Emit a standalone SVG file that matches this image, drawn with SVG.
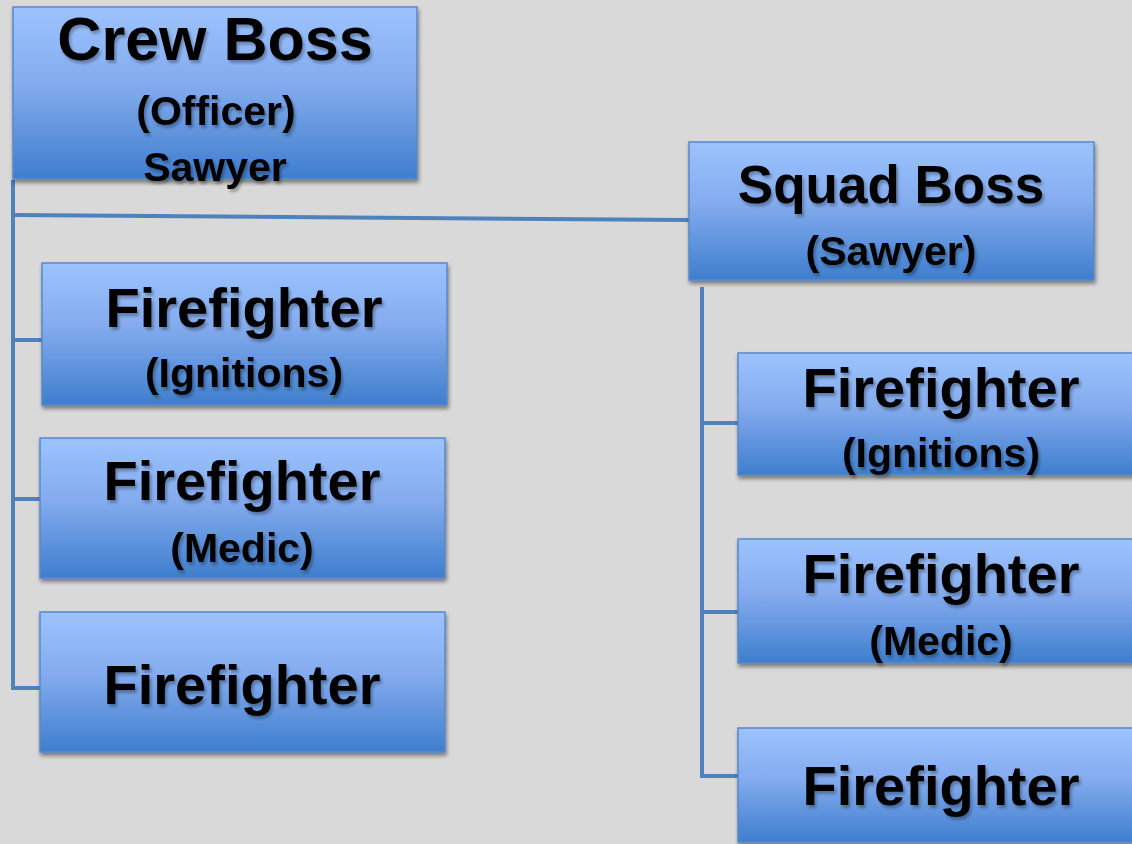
<svg xmlns="http://www.w3.org/2000/svg" width="1132" height="844" viewBox="0 0 1132 844">
<defs>
<linearGradient id="g" x1="0" y1="0" x2="0" y2="1">
<stop offset="0" stop-color="#9DC3FE"/>
<stop offset="0.45" stop-color="#83ABEE"/>
<stop offset="1" stop-color="#3E7ECD"/>
</linearGradient>
<filter id="bs" x="-5%" y="-10%" width="110%" height="125%">
<feGaussianBlur in="SourceAlpha" stdDeviation="2"/>
<feOffset dx="1" dy="3"/>
<feComponentTransfer><feFuncA type="linear" slope="0.45"/></feComponentTransfer>
<feMerge><feMergeNode/><feMergeNode in="SourceGraphic"/></feMerge>
</filter>
<filter id="ts" x="-5%" y="-20%" width="110%" height="150%">
<feGaussianBlur in="SourceAlpha" stdDeviation="1.5"/>
<feOffset dx="1.5" dy="2.5"/>
<feComponentTransfer><feFuncA type="linear" slope="0.3"/></feComponentTransfer>
<feMerge><feMergeNode/><feMergeNode in="SourceGraphic"/></feMerge>
</filter>
</defs>
<style>
.box{fill:url(#g);stroke:#5A88C8;stroke-width:1.5;filter:url(#bs)}
text{font-family:"Liberation Sans",Arial,sans-serif;font-weight:bold;fill:#000;text-anchor:middle;filter:url(#ts)}
.t{font-size:56px}
.big{font-size:61px}
.sb{font-size:53px}
.s{font-size:41px}
.c{fill:none;stroke:#4F81BD;stroke-width:4;stroke-linejoin:miter}
</style>
<rect width="1132" height="844" fill="#D9D9D9"/>
<g id="connectors">
<polyline class="c" points="13,180 13,688 41,688"/>
<line class="c" x1="13" y1="215" x2="689" y2="220"/>
<line class="c" x1="13" y1="340" x2="42" y2="340"/>
<line class="c" x1="13" y1="499" x2="40" y2="499"/>
<polyline class="c" points="702,287 702,776 738,776"/>
<line class="c" x1="702" y1="423" x2="738" y2="423"/>
<line class="c" x1="702" y1="612" x2="738" y2="612"/>
</g>
<g id="crew-boss">
<rect class="box" x="13" y="7" width="404" height="172"/>
<text class="big" x="215" y="60">Crew Boss</text>
<text class="s" x="216" y="125">(Officer)</text>
<text class="s" x="215" y="181">Sawyer</text>
</g>
<g id="ff-left-1">
<rect class="box" x="42" y="263" width="405" height="142"/>
<text class="t" x="244" y="327">Firefighter</text>
<text class="s" x="244" y="387">(Ignitions)</text>
</g>
<g id="ff-left-2">
<rect class="box" x="40" y="438" width="405" height="140"/>
<text class="t" x="242" y="500">Firefighter</text>
<text class="s" x="242" y="562">(Medic)</text>
</g>
<g id="ff-left-3">
<rect class="box" x="40" y="612" width="405" height="140"/>
<text class="t" x="242" y="704">Firefighter</text>
</g>
<g id="squad-boss">
<rect class="box" x="689" y="142" width="405" height="138"/>
<text class="sb" x="891" y="203">Squad Boss</text>
<text class="s" x="891" y="265">(Sawyer)</text>
</g>
<g id="ff-right-1">
<rect class="box" x="738" y="353" width="405" height="122"/>
<text class="t" x="941" y="407">Firefighter</text>
<text class="s" x="941" y="467">(Ignitions)</text>
</g>
<g id="ff-right-2">
<rect class="box" x="738" y="539" width="405" height="124"/>
<text class="t" x="941" y="593">Firefighter</text>
<text class="s" x="941" y="655">(Medic)</text>
</g>
<g id="ff-right-3">
<rect class="box" x="738" y="728" width="405" height="114"/>
<text class="t" x="941" y="805">Firefighter</text>
</g>
</svg>
